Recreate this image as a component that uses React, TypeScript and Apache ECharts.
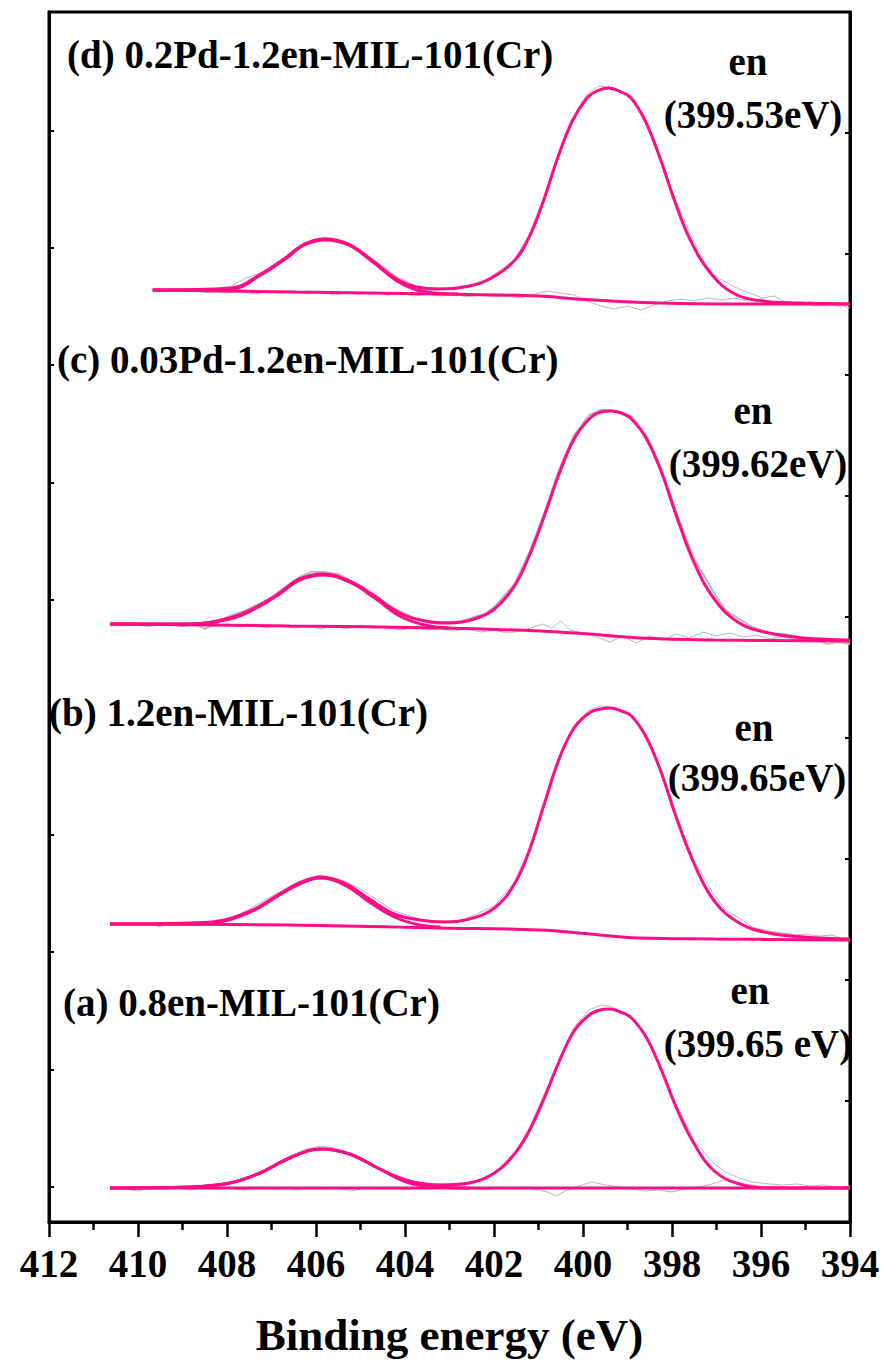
import React, { useEffect, useRef } from "react";
import * as echarts from "echarts";

// ---------- axis / tick data ----------
const X_MIN = 394;
const X_MAX = 412;
const X_STEP = 2;
const Y_MAX = 1210;
const leftTickValues = [35, 152.4, 269.8, 387.2, 504.6, 622, 739.4, 856.8, 974.2, 1091.6];
const rightTickStep = 121;

// ---------- labels ----------
const sampleLabels = [
  "(d) 0.2Pd-1.2en-MIL-101(Cr)",
  "(c) 0.03Pd-1.2en-MIL-101(Cr)",
  "(b) 1.2en-MIL-101(Cr)",
  "(a) 0.8en-MIL-101(Cr)",
];
const peakName = "en";
const peakLabels = ["(399.53eV)", "(399.62eV)", "(399.65eV)", "(399.65 eV)"];
const xAxisName = "Binding energy (eV)";

// ---------- (d) 0.2Pd-1.2en-MIL-101(Cr) ----------
const envD = [
  [409.67, 932], [407.9, 934], [407.24, 948], [406.69, 964], [406.26, 978], [405.8, 983],
  [405.27, 978], [404.72, 961], [404.18, 943], [403.74, 935], [403.19, 933], [402.54, 936],
  [402.1, 943], [401.55, 961], [401.22, 984], [400.89, 1021], [400.57, 1064], [400.24, 1101],
  [399.91, 1124], [399.69, 1131], [399.42, 1134], [399.14, 1130], [398.92, 1124], [398.6, 1101],
  [398.27, 1064], [397.94, 1021], [397.61, 984], [397.17, 951], [396.63, 929], [395.97, 921],
  [395.2, 919], [394.0, 918],
];
const bgD = [
  [409.67, 932], [406.48, 930], [403.19, 928], [401.0, 926], [400.13, 923], [399.37, 921],
  [398.27, 919], [396.63, 918], [394.0, 918],
];
const compD = [
  [409.67, 932], [407.9, 933], [407.24, 947], [406.69, 963], [406.26, 977], [405.8, 982],
  [405.27, 977], [404.72, 960], [404.18, 941], [403.74, 932], [403.3, 929], [402.8, 928],
];
const rawD = [
  [409.67, 930], [409.2, 933], [408.7, 931], [408.34, 929], [407.9, 936], [407.58, 944],
  [407.24, 949], [406.69, 965], [406.26, 979], [405.8, 985], [405.27, 979], [404.72, 963],
  [404.18, 945], [403.74, 936], [403.4, 932], [403.19, 934], [402.9, 932], [402.54, 937],
  [402.1, 944], [401.55, 962], [401.22, 986], [400.89, 1023], [400.57, 1066], [400.24, 1103],
  [399.91, 1128], [399.65, 1136], [399.42, 1135], [398.92, 1125], [398.6, 1103], [398.27, 1066],
  [397.94, 1024], [397.61, 990], [397.3, 962], [397.05, 946], [396.8, 940], [396.5, 933],
  [396.2, 928], [395.97, 924], [395.7, 926], [395.5, 921], [395.2, 917], [394.9, 920],
  [394.6, 916], [394.3, 918], [394.0, 914],
];
const resD = [
  [408.3, 930], [408.0, 929], [407.7, 931], [407.4, 928], [407.1, 930], [406.8, 929], [406.5, 931],
  [406.2, 928], [405.9, 930], [405.6, 927], [405.3, 929], [405.0, 928], [404.7, 930], [404.4, 927],
  [404.1, 929], [403.8, 926], [403.5, 928], [403.2, 926], [402.9, 928], [402.6, 925], [402.3, 927],
  [402.0, 925], [401.7, 926], [401.4, 924], [401.1, 928], [400.8, 931], [400.5, 929], [400.2, 927],
  [399.9, 921], [399.6, 916], [399.3, 913], [399.0, 916], [398.7, 912], [398.4, 917], [398.1, 921],
  [397.8, 923], [397.5, 921], [397.2, 924], [396.9, 922], [396.6, 924], [396.3, 921], [396.0, 923],
  [395.7, 920], [395.4, 918], [395.1, 920], [394.8, 916], [394.5, 918], [394.2, 915],
];

// ---------- (c) 0.03Pd-1.2en-MIL-101(Cr) ----------
const envC = [
  [410.63, 598], [408.84, 598], [407.94, 604], [407.38, 614], [406.82, 629], [406.37, 643],
  [405.83, 648], [405.25, 641], [404.68, 626], [404.12, 609], [403.56, 601], [403.0, 599],
  [402.44, 603], [401.99, 613], [401.54, 636], [401.21, 666], [400.87, 706], [400.53, 749],
  [400.2, 783], [399.86, 803], [399.6, 810], [399.38, 811], [399.14, 809], [398.91, 803],
  [398.57, 783], [398.23, 749], [397.9, 706], [397.5, 659], [397.05, 623], [396.49, 599],
  [395.82, 589], [395.03, 584], [394.0, 582],
];
const bgC = [
  [410.63, 598], [406.59, 596], [403.23, 594], [400.98, 591], [399.86, 588], [398.74, 584],
  [397.05, 582], [394.0, 581],
];
const compC = [
  [410.63, 598], [408.84, 598], [407.94, 603], [407.38, 613], [406.82, 628], [406.37, 642],
  [405.83, 647], [405.25, 640], [404.68, 624], [404.12, 606], [403.56, 597], [403.0, 594],
];
const rawC = [
  [410.63, 597], [410.2, 599], [409.8, 596], [409.4, 598], [409.0, 596], [408.7, 598], [408.5, 593],
  [408.2, 600], [407.94, 606], [407.6, 611], [407.38, 616], [407.0, 624], [406.82, 631], [406.37, 645],
  [406.1, 650], [405.83, 650], [405.5, 648], [405.25, 642], [404.9, 633], [404.68, 627], [404.4, 617],
  [404.12, 611], [403.8, 604], [403.56, 602], [403.3, 598], [403.0, 600], [402.7, 601], [402.44, 605],
  [402.2, 608], [401.99, 615], [401.54, 638], [401.21, 669], [400.87, 709], [400.53, 753], [400.2, 787],
  [399.86, 807], [399.6, 812], [399.38, 812], [398.91, 806], [398.57, 786], [398.23, 752], [397.9, 709],
  [397.5, 663], [397.05, 629], [396.8, 612], [396.49, 603], [396.2, 595], [395.82, 589], [395.5, 588],
  [395.2, 586], [395.03, 581], [394.8, 583], [394.5, 578], [394.3, 580], [394.0, 578],
];
const resC = [
  [408.0, 598], [407.7, 595], [407.4, 597], [407.1, 594], [406.8, 597], [406.5, 594], [406.2, 596],
  [405.9, 593], [405.6, 596], [405.3, 593], [405.0, 597], [404.7, 594], [404.4, 595], [404.1, 592],
  [403.8, 595], [403.5, 592], [403.2, 593], [402.9, 591], [402.6, 593], [402.3, 590], [402.0, 592],
  [401.7, 589], [401.4, 591], [401.1, 595], [400.9, 598], [400.7, 594], [400.5, 601], [400.3, 592],
  [400.0, 589], [399.7, 585], [399.4, 580], [399.1, 586], [398.8, 579], [398.5, 586], [398.2, 582],
  [397.9, 588], [397.6, 584], [397.3, 590], [397.0, 586], [396.7, 589], [396.4, 585], [396.1, 587],
  [395.8, 583], [395.5, 585], [395.2, 582], [394.9, 584], [394.6, 580], [394.3, 582], [394.0, 579],
];

// ---------- (b) 1.2en-MIL-101(Cr) ----------
const envB = [
  [410.63, 298], [408.84, 299], [408.05, 302], [407.38, 313], [406.82, 328], [406.37, 339],
  [405.9, 345], [405.36, 339], [404.8, 323], [404.24, 308], [403.67, 302], [403.11, 300],
  [402.55, 303], [401.99, 314], [401.54, 338], [401.21, 371], [400.87, 418], [400.53, 464],
  [400.2, 494], [399.86, 509], [399.6, 513], [399.38, 514], [399.14, 511], [398.91, 506],
  [398.57, 484], [398.23, 448], [397.9, 404], [397.5, 358], [397.05, 321], [396.49, 299],
  [395.82, 289], [395.03, 285], [394.0, 283],
];
const bgB = [
  [410.63, 298], [406.59, 297], [403.23, 294], [400.98, 292], [399.86, 288], [398.74, 284],
  [397.05, 283], [394.0, 282],
];
const compB = [
  [410.63, 298], [408.84, 298], [408.05, 301], [407.38, 312], [406.82, 327], [406.37, 338],
  [405.9, 344], [405.36, 337], [404.8, 320], [404.24, 305], [403.67, 297], [403.2, 295],
];
const rawB = [
  [410.63, 298], [410.3, 297], [410.0, 299], [409.7, 298], [409.5, 295], [409.2, 299], [408.84, 298],
  [408.5, 299], [408.2, 301], [408.05, 303], [407.7, 308], [407.38, 316], [406.82, 330], [406.37, 341],
  [405.9, 347], [405.36, 341], [405.0, 333], [404.8, 327], [404.24, 311], [403.67, 303], [403.4, 299],
  [403.11, 301], [402.8, 300], [402.55, 305], [401.99, 316], [401.54, 340], [401.21, 373], [400.87, 420],
  [400.53, 466], [400.2, 497], [399.86, 512], [399.6, 516], [399.38, 515], [398.91, 507], [398.57, 486],
  [398.23, 451], [397.9, 406], [397.5, 361], [397.05, 327], [396.8, 312], [396.49, 304], [396.2, 295],
  [395.82, 291], [395.5, 289], [395.2, 287], [395.03, 288], [394.7, 286], [394.4, 287], [394.2, 284],
  [394.0, 281],
];

// ---------- (a) 0.8en-MIL-101(Cr) ----------
const envA = [
  [410.63, 34], [408.84, 35], [407.94, 39], [407.26, 49], [406.59, 64], [405.9, 73], [405.25, 68],
  [404.57, 53], [403.9, 41], [403.23, 37], [402.55, 39], [401.99, 49], [401.54, 68], [401.21, 91],
  [400.87, 124], [400.53, 161], [400.2, 191], [399.86, 207], [399.62, 212], [399.41, 213],
  [399.16, 210], [398.91, 204], [398.57, 184], [398.23, 151], [397.9, 114], [397.5, 78],
  [397.05, 51], [396.49, 38], [395.82, 34], [394.0, 34],
];
const bgA = [
  [410.63, 34], [394.0, 34],
];
const compA = [
  [410.63, 34], [408.84, 35], [407.94, 39], [407.26, 49], [406.59, 64], [405.9, 73], [405.25, 68],
  [404.57, 53], [403.9, 39], [403.23, 35], [402.55, 34],
];
const rawA = [
  [410.63, 34], [410.0, 35], [409.5, 33], [409.0, 35], [408.5, 34], [408.0, 37], [407.6, 42],
  [407.26, 50], [406.9, 58], [406.59, 66], [406.2, 73], [405.9, 76], [405.6, 74], [405.25, 69],
  [404.9, 62], [404.57, 54], [404.2, 46], [403.9, 41], [403.5, 39], [403.23, 38], [402.9, 37],
  [402.55, 40], [402.2, 44], [401.99, 50], [401.54, 69], [401.21, 93], [400.87, 128], [400.53, 164],
  [400.2, 195], [399.86, 212], [399.6, 217], [399.41, 216], [398.91, 206], [398.57, 186], [398.23, 153],
  [397.9, 117], [397.5, 81], [397.05, 58], [396.8, 50], [396.49, 44], [396.2, 40], [395.82, 38],
  [395.5, 37], [395.2, 38], [394.9, 36], [394.6, 37], [394.3, 35], [394.0, 36],
];
const resA = [
  [410.6, 34], [410.3, 33], [410.0, 31], [409.7, 35], [409.4, 33], [409.1, 34], [408.8, 32],
  [408.5, 35], [408.2, 33], [407.9, 34], [407.6, 32], [407.3, 35], [407.0, 33], [406.7, 34],
  [406.4, 32], [406.1, 35], [405.8, 33], [405.5, 34], [405.2, 31], [404.9, 34], [404.6, 33],
  [404.3, 35], [404.0, 32], [403.7, 34], [403.4, 33], [403.1, 35], [402.8, 33], [402.5, 34],
  [402.2, 32], [401.9, 35], [401.6, 33], [401.3, 35], [401.0, 32], [400.8, 30], [400.6, 26],
  [400.4, 31], [400.1, 36], [399.8, 40], [399.5, 37], [399.2, 35], [398.9, 33], [398.6, 31],
  [398.3, 32], [398.0, 30], [397.7, 33], [397.4, 35], [397.1, 38], [396.8, 42], [396.5, 39],
  [396.2, 37], [395.9, 35], [395.6, 36], [395.3, 34], [395.0, 36], [394.7, 33], [394.4, 35],
  [394.1, 33],
];

const PINK = "#ff0d86";
const GRAY = "#b9b9b9";
const FONT = "Liberation Serif";

function grayLine(data: number[][], width = 1) {
  return {
    type: "line",
    data,
    showSymbol: false,
    symbol: "none",
    smooth: false,
    silent: true,
    z: 2,
    lineStyle: { color: GRAY, width },
  };
}
function pinkLine(data: number[][], smooth = 0.4) {
  return {
    type: "line",
    data,
    showSymbol: false,
    symbol: "none",
    smooth,
    silent: true,
    z: 3,
    lineStyle: { color: PINK, width: 3 },
  };
}

export default function App() {
  const ref = useRef<HTMLDivElement>(null);

  useEffect(() => {
    document.body.style.margin = "0";
    if (!ref.current) return;
    const chart = echarts.init(ref.current, undefined, { renderer: "svg" });

    const leftLabelPos = [
      [67, 54],
      [57, 359],
      [49, 712],
      [63, 1002],
    ];
    const enPos = [
      [748, 61],
      [753, 410],
      [754, 727],
      [750, 990],
    ];
    const peakPos = [
      [753, 114],
      [758, 463],
      [757, 777],
      [758, 1043],
    ];

    const textEl = (text: string, x: number, y: number, align: string) => ({
      type: "text",
      x,
      y,
      silent: true,
      z: 10,
      style: {
        text,
        fill: "#000",
        fontSize: 39,
        fontWeight: "bold",
        fontFamily: FONT,
        textAlign: align,
        textVerticalAlign: "middle",
        align,
        verticalAlign: "middle",
      },
    });

    const graphics: any[] = [];
    sampleLabels.forEach((t, i) => graphics.push(textEl(t, leftLabelPos[i][0], leftLabelPos[i][1], "left")));
    peakLabels.forEach((t, i) => {
      graphics.push(textEl(peakName, enPos[i][0], enPos[i][1], "center"));
      graphics.push(textEl(t, peakPos[i][0], peakPos[i][1], "center"));
    });

    const option: any = {
      animation: false,
      grid: {
        left: 49,
        right: 34,
        top: 12,
        bottom: 140,
        show: true,
        borderColor: "#000",
        borderWidth: 3,
        backgroundColor: "transparent",
      },
      xAxis: {
        type: "value",
        min: X_MIN,
        max: X_MAX,
        interval: X_STEP,
        inverse: true,
        position: "bottom",
        axisLine: { show: true, onZero: false, lineStyle: { color: "#000", width: 3 } },
        axisTick: { show: true, inside: false, length: 15, lineStyle: { color: "#000", width: 2.5 } },
        minorTick: { show: true, splitNumber: 2, length: 8, lineStyle: { color: "#000", width: 2.5 } },
        splitLine: { show: false },
        minorSplitLine: { show: false },
        axisLabel: {
          color: "#000",
          fontSize: 39,
          fontWeight: "bold",
          fontFamily: FONT,
          margin: 22,
        },
        name: xAxisName,
        nameLocation: "middle",
        nameGap: 90,
        nameTextStyle: { color: "#000", fontSize: 45, fontWeight: "bold", fontFamily: FONT },
      },
      yAxis: [
        {
          type: "value",
          min: 0,
          max: Y_MAX,
          position: "left",
          axisLine: { show: true, onZero: false, lineStyle: { color: "#000", width: 3 } },
          axisTick: {
            show: true,
            inside: true,
            length: 5,
            customValues: leftTickValues,
            lineStyle: { color: "#000", width: 2 },
          },
          axisLabel: { show: false },
          splitLine: { show: false },
        },
        {
          type: "value",
          min: 0,
          max: Y_MAX,
          interval: rightTickStep,
          position: "right",
          axisLine: { show: true, onZero: false, lineStyle: { color: "#000", width: 3 } },
          axisTick: { show: true, inside: true, length: 5, lineStyle: { color: "#000", width: 2 } },
          axisLabel: { show: false },
          splitLine: { show: false },
        },
      ],
      series: [
        grayLine(resD), grayLine(rawD),
        grayLine(resC), grayLine(rawC, 2),
        grayLine(rawB),
        grayLine(resA), grayLine(rawA),
        pinkLine(bgD), pinkLine(compD), pinkLine(envD),
        pinkLine(bgC), pinkLine(compC), pinkLine(envC),
        pinkLine(bgB), pinkLine(compB), pinkLine(envB),
        pinkLine(bgA), pinkLine(compA), pinkLine(envA),
      ],
      graphic: graphics,
    };

    chart.setOption(option);
    return () => chart.dispose();
  }, []);

  return <div ref={ref} style={{ width: 884, height: 1362 }} />;
}
